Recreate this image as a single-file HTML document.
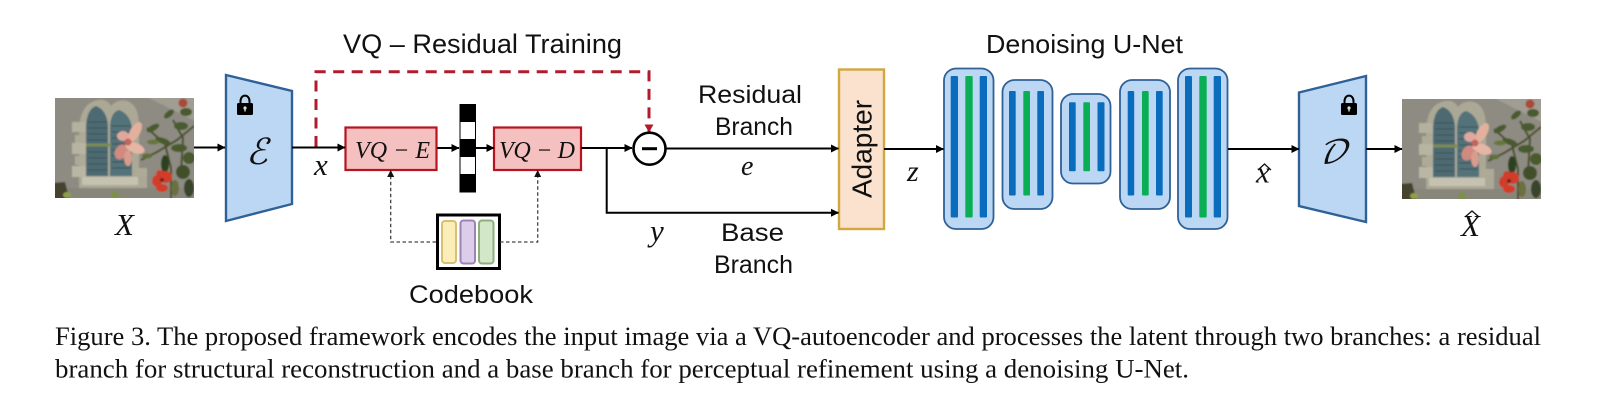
<!DOCTYPE html>
<html><head><meta charset="utf-8"><title>Figure 3</title>
<style>
html,body{margin:0;padding:0;background:#fff;width:1598px;height:417px;overflow:hidden}
svg{display:block}
.s{font-family:"Liberation Sans",sans-serif;fill:#111}
.m{font-family:"Liberation Serif",serif;font-style:italic;fill:#111}
.c{font-family:"Liberation Serif",serif;font-size:26.500px;fill:#111}
.l{stroke:#000;stroke-width:2;fill:none}
</style></head><body>
<svg width="1598" height="417" viewBox="0 0 1598 417" xmlns="http://www.w3.org/2000/svg">
<defs>
<marker id="a" markerWidth="9" markerHeight="9" refX="7.5" refY="4" orient="auto" markerUnits="userSpaceOnUse"><path d="M0 0L8 4L0 8z" fill="#000"/></marker>
<marker id="b" markerWidth="9" markerHeight="8" refX="6" refY="3.5" orient="auto" markerUnits="userSpaceOnUse"><path d="M0 0L7 3.5L0 7z" fill="#111"/></marker>
<marker id="r" markerWidth="10" markerHeight="10" refX="7.5" refY="4.5" orient="auto" markerUnits="userSpaceOnUse"><path d="M0 0L8 4.5L0 9z" fill="#b01c2e"/></marker>
<filter id="soft" x="0" y="0" width="1" height="1"><feGaussianBlur stdDeviation="0.9"/></filter>
<clipPath id="ic"><rect width="139" height="100"/></clipPath>
<g id="photo" clip-path="url(#ic)"><g filter="url(#soft)">
<rect x="-3" y="-3" width="145" height="106" fill="#8e8b82"/>
<path d="M88 -3L142 -3V24z" fill="#a09d92"/>
<path d="M24 92V30Q26 4 44 2Q52 1 56 8Q62 1 72 3Q84 7 84 28V78H92V92z" fill="#aca896"/>
<rect x="17" y="24" width="14" height="10" fill="#b5b19f"/><rect x="20" y="37" width="11" height="9" fill="#aeaa98"/>
<rect x="17" y="45" width="14" height="11" fill="#b8b4a2"/><rect x="20" y="58" width="11" height="9" fill="#aeaa98"/>
<rect x="17" y="68" width="14" height="11" fill="#bab6a4"/><rect x="80" y="70" width="12" height="8" fill="#aeaa98"/>
<rect x="27" y="79" width="56" height="8" fill="#c6c2b1"/>
<rect x="-3" y="90" width="145" height="13" fill="#88867a"/>
<path d="M31 78V28Q32 11 41 8Q52 12 53 28V78z" fill="#4e6b72"/>
<path d="M55 78V28Q56 14 64 12Q75 16 77 30V78z" fill="#52727a"/>
<g stroke="#3b4f54" stroke-width="1"><path d="M33 24H52M33 30H52M33 36H52M33 42H52M33 48H52M33 54H52M33 60H52M33 66H52M33 72H52M57 28H76M57 34H76M57 40H76M57 46H76M57 52H76M57 58H76M57 64H76M57 70H76"/></g>
<path d="M31 47H56" stroke="#7e8a55" stroke-width="3"/>
<path d="M86 62L102 54L122 42L139 28M92 30L110 46L116 70L116 103M118 22L128 40L126 74" stroke="#4a5029" stroke-width="2" fill="none"/>
<g fill="#4a5a2e"><ellipse cx="98" cy="30" rx="7" ry="3" transform="rotate(-30 98 30)"/><ellipse cx="114" cy="16" rx="6" ry="3" transform="rotate(-40 114 16)"/><ellipse cx="126" cy="28" rx="7" ry="4"/><ellipse cx="131" cy="14" rx="6" ry="4"/><ellipse cx="108" cy="43" rx="8" ry="3" transform="rotate(20 108 43)"/><ellipse cx="124" cy="50" rx="8" ry="4"/><ellipse cx="134" cy="60" rx="6" ry="6"/><ellipse cx="110" cy="66" rx="4" ry="9" fill="#2e4021"/><ellipse cx="128" cy="74" rx="7" ry="7" fill="#3f5029"/><ellipse cx="98" cy="44" rx="6" ry="2.500" fill="#68763c"/><ellipse cx="92" cy="58" rx="5" ry="2.500" fill="#5f6f38"/><ellipse cx="120" cy="90" rx="4" ry="8" fill="#6b7040"/><ellipse cx="134" cy="90" rx="5" ry="9" fill="#39452a"/></g>
<g><ellipse cx="80" cy="34" rx="5" ry="11" transform="rotate(30 80 34)" fill="#e3b09e"/><ellipse cx="68" cy="38" rx="6" ry="5" fill="#dfa89e"/><ellipse cx="66" cy="54" rx="6" ry="8" transform="rotate(30 66 54)" fill="#d08a80"/><ellipse cx="80" cy="50" rx="10" ry="5" transform="rotate(20 80 50)" fill="#e6b6a4"/><ellipse cx="73" cy="60" rx="4" ry="8" fill="#d89c8c"/><circle cx="73" cy="44" r="3.500" fill="#c4645e"/></g>
<g fill="#d23c2a"><ellipse cx="102" cy="83" rx="5" ry="6"/><ellipse cx="111" cy="79" rx="6" ry="6"/><ellipse cx="107" cy="90" rx="6" ry="4"/><ellipse cx="105" cy="76" rx="4" ry="4"/><circle cx="107" cy="82" r="2" fill="#7c1a14"/></g>
<circle cx="128" cy="5" r="4.500" fill="#a94a38"/>
<path d="M-3 85L10 84L15 103H-3z" fill="#45432e"/><ellipse cx="12" cy="97" rx="4" ry="3" fill="#8f9f4a"/><ellipse cx="60" cy="97" rx="4" ry="4" fill="#7c8f4c"/>
</g></g>
<g id="lock"><path d="M3.500 9V6.200C3.500 -1.200 12.500 -1.200 12.500 6.200V9" fill="none" stroke="#000" stroke-width="2"/><rect x="0" y="8" width="16" height="12" rx="1.500" fill="#000"/><circle cx="8" cy="13" r="1.600" fill="#ddd"/><rect x="7.300" y="13" width="1.400" height="3.500" fill="#ddd"/></g>
</defs>

<use href="#photo" x="55" y="98"/>
<use href="#photo" x="1402" y="99"/>

<polygon points="226,75 292,91 292,204 226,221" fill="#bcd7f4" stroke="#2f6197" stroke-width="2.400"/>
<polygon points="1299,92.500 1366,76 1366,222 1299,206" fill="#bcd7f4" stroke="#2f6197" stroke-width="2.400"/>
<use href="#lock" x="237" y="95"/>
<use href="#lock" x="1341" y="95"/>

<rect x="345.500" y="127.500" width="91" height="42.500" fill="#f4c0c0" stroke="#b8131f" stroke-width="2.200"/>
<rect x="494" y="127.500" width="87" height="42.500" fill="#f4c0c0" stroke="#b8131f" stroke-width="2.200"/>
<g><rect x="459.500" y="104" width="16.500" height="88.500" fill="#000"/><rect x="460.500" y="122" width="14.500" height="17" fill="#fff"/><rect x="460.500" y="157" width="14.500" height="17" fill="#fff"/></g>

<rect x="437.500" y="215" width="62" height="53.500" fill="#fff" stroke="#000" stroke-width="3"/>
<rect x="442" y="221" width="14" height="42" rx="3" fill="#fbeeb8" stroke="#d9c070" stroke-width="2"/>
<rect x="460.500" y="220.500" width="14.500" height="43" rx="3" fill="#dccdea" stroke="#9c84b4" stroke-width="2"/>
<rect x="479" y="220.500" width="14.500" height="43" rx="3" fill="#d2e6c8" stroke="#8fae80" stroke-width="2"/>

<rect x="839" y="69.500" width="45" height="159.500" fill="#fbe2cf" stroke="#cfa93e" stroke-width="2.400"/>

<g stroke="#2f6197" stroke-width="1.800" fill="#bcd7f4">
<rect x="944" y="68.500" width="49.500" height="160.500" rx="12"/>
<rect x="1002.500" y="80" width="50" height="129" rx="12"/>
<rect x="1061" y="94" width="49.500" height="89.500" rx="12"/>
<rect x="1120" y="80" width="50" height="129" rx="12"/>
<rect x="1178" y="68.500" width="49.500" height="160.500" rx="12"/>
</g>
<g fill="#0a6cbd">
<rect x="950.700" y="76" width="7.300" height="141.500" rx="1"/><rect x="979.700" y="76" width="7.300" height="141.500" rx="1"/>
<rect x="1009" y="91" width="6.700" height="104.500" rx="1"/><rect x="1037.300" y="91" width="6.700" height="104.500" rx="1"/>
<rect x="1069" y="102.300" width="6.700" height="69" rx="1"/><rect x="1097.500" y="102.300" width="7" height="69" rx="1"/>
<rect x="1127.700" y="91" width="6.500" height="104.500" rx="1"/><rect x="1156" y="91" width="6.700" height="104.500" rx="1"/>
<rect x="1185" y="76" width="7" height="141.500" rx="1"/><rect x="1213.700" y="76" width="7.300" height="141.500" rx="1"/>
</g>
<g fill="#0aaf55">
<rect x="965.300" y="76" width="7.400" height="141.500" rx="1"/>
<rect x="1023.300" y="91" width="6.700" height="104.500" rx="1"/>
<rect x="1083.300" y="102.300" width="6.700" height="69" rx="1"/>
<rect x="1142" y="91" width="6.700" height="104.500" rx="1"/>
<rect x="1199.300" y="76" width="7.400" height="141.500" rx="1"/>
</g>

<path d="M316 147V71.700H649V132" fill="none" stroke="#b01c2e" stroke-width="3" stroke-dasharray="11 7.500" marker-end="url(#r)"/>

<g class="l">
<path d="M194 147.500H225" marker-end="url(#a)"/>
<path d="M292 147.500H345" marker-end="url(#a)"/>
<path d="M437 148H459" marker-end="url(#a)"/>
<path d="M476 148H494" marker-end="url(#a)"/>
<path d="M581 148H632" marker-end="url(#a)"/>
<path d="M666 148.500H838.500" marker-end="url(#a)"/>
<path d="M606.700 148V212.700H838.500" marker-end="url(#a)"/>
<path d="M884 149H943.500" marker-end="url(#a)"/>
<path d="M1228 149H1299" marker-end="url(#a)"/>
<path d="M1366 149H1402" marker-end="url(#a)"/>
</g>
<path d="M436 242H390.700V171" fill="none" stroke="#444" stroke-width="1.300" stroke-dasharray="3.500 2.500" marker-end="url(#b)"/>
<path d="M500 242H537.700V171" fill="none" stroke="#444" stroke-width="1.300" stroke-dasharray="3.500 2.500" marker-end="url(#b)"/>

<circle cx="649.500" cy="148.700" r="16" fill="#fff" stroke="#000" stroke-width="2.600"/>
<path d="M642 148.700H657" stroke="#000" stroke-width="3"/>

<text class="s" x="343" y="53" font-size="27" textLength="279" lengthAdjust="spacingAndGlyphs">VQ – Residual Training</text>
<text class="s" x="986" y="53" font-size="26" textLength="197" lengthAdjust="spacingAndGlyphs">Denoising U-Net</text>
<text class="s" x="698" y="103" font-size="25" textLength="104" lengthAdjust="spacingAndGlyphs">Residual</text>
<text class="s" x="715" y="135" font-size="25" textLength="78" lengthAdjust="spacingAndGlyphs">Branch</text>
<text class="s" x="721" y="241" font-size="25" textLength="63" lengthAdjust="spacingAndGlyphs">Base</text>
<text class="s" x="714" y="273" font-size="25" textLength="79" lengthAdjust="spacingAndGlyphs">Branch</text>
<text class="s" x="409" y="303" font-size="25" textLength="124" lengthAdjust="spacingAndGlyphs">Codebook</text>
<text class="s" font-size="28" text-anchor="middle" transform="translate(871.500 149) rotate(-90)">Adapter</text>

<text class="m" x="355" y="158" font-size="24" textLength="75" lengthAdjust="spacing">VQ − E</text>
<text class="m" x="499" y="158" font-size="24" textLength="76" lengthAdjust="spacing">VQ − D</text>
<text class="m" x="314" y="175" font-size="31">x</text>
<text class="m" x="115" y="235" font-size="31">X</text>
<text class="m" x="741" y="175" font-size="28">e</text>
<text class="m" x="650" y="241" font-size="31">y</text>
<text class="m" x="907" y="181" font-size="30">z</text>
<text class="m" x="1256" y="182.500" font-size="31">x</text>
<path d="M1258 170L1264.500 164L1271 170" fill="none" stroke="#111" stroke-width="1.300"/>
<text class="m" x="1461" y="236" font-size="31">X</text>
<path d="M1465 217L1472 211L1479 217" fill="none" stroke="#111" stroke-width="1.300"/>
<text class="m" x="246" y="164" font-size="36">ℰ</text>
<text x="1318" y="163" font-size="32" style="font-family:'DejaVu Math TeX Gyre','DejaVu Serif','Liberation Serif',serif;font-style:italic" fill="#111">𝒟</text>

<text class="c" x="55" y="345" textLength="1486" lengthAdjust="spacingAndGlyphs">Figure 3. The proposed framework encodes the input image via a VQ-autoencoder and processes the latent through two branches: a residual</text>
<text class="c" x="55" y="377.500" textLength="1134" lengthAdjust="spacingAndGlyphs">branch for structural reconstruction and a base branch for perceptual refinement using a denoising U-Net.</text>
</svg>
</body></html>
